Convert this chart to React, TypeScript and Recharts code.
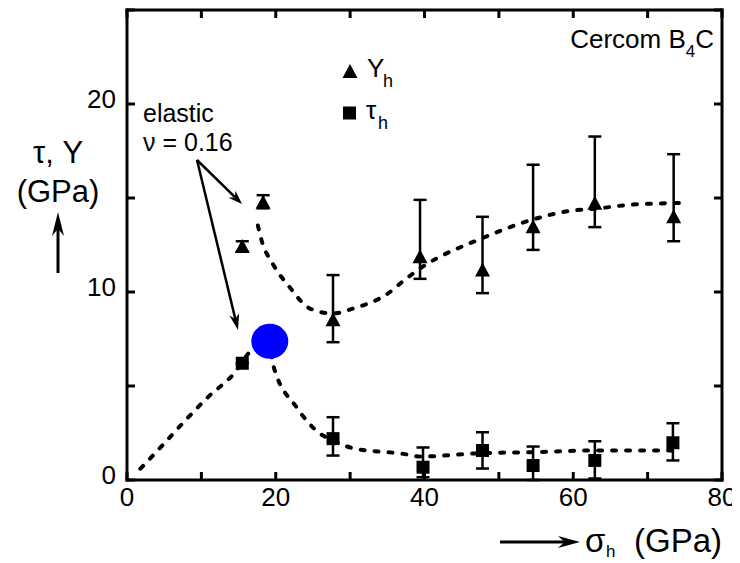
import React from 'react';
import { ComposedChart, XAxis, YAxis, Line, Scatter, ErrorBar } from 'recharts';

const FONT = '"Liberation Sans", Arial, Helvetica, sans-serif';

// Y_h (triangles)
const yhX = [15.5, 18.3, 27.7, 39.4, 47.8, 54.6, 62.9, 73.5];
const yhY = [12.4, 14.75, 8.5, 11.85, 11.14, 13.45, 14.7, 13.98];
const yhLo = [12.15, 14.45, 7.33, 10.7, 9.94, 12.24, 13.45, 12.7];
const yhHi = [12.7, 15.15, 10.9, 14.9, 14.0, 16.77, 18.27, 17.33];

// tau_h (squares)
const thX = [15.5, 27.7, 39.8, 47.8, 54.6, 62.9, 73.4];
const thY = [6.21, 2.2, 0.68, 1.57, 0.77, 1.04, 1.98];
const thLo = [6.21, 1.3, 0.15, 0.61, 0.0, 0.08, 1.04];
const thHi = [6.21, 3.34, 1.73, 2.54, 1.78, 2.06, 3.02];

// dashed guide curves
const yCurveX = [17.6, 18.1, 19.6, 21.9, 24.6, 27.7, 30.4, 35.0, 37.5, 39.4, 48.0, 54.6, 59.3, 63.0, 68.0, 75.4];
const yCurveY = [13.54, 12.74, 11.5, 10.24, 9.12, 8.86, 9.12, 9.9, 10.7, 11.25, 12.9, 13.86, 14.3, 14.43, 14.65, 14.74];
const tCurveX = [1.8, 4.9, 7.8, 11.0, 14.25, 16.95, 19.2, 19.67, 22.8, 25.95, 27.7, 30.4, 37.15, 39.4, 47.8, 54.5, 62.9, 73.4];
const tCurveY = [0.6, 1.9, 3.15, 4.45, 5.6, 7.0, 7.38, 6.09, 3.87, 2.47, 2.1, 1.69, 1.39, 1.25, 1.43, 1.48, 1.57, 1.57];

// elastic point (blue)
const elasticX = [19.2];
const elasticY = [7.38];

const xTicks = [0, 10, 20, 30, 40, 50, 60, 70, 80];
const xLabels = [0, 20, 40, 60, 80];
const yTicks = [0, 5, 10, 15, 20, 25];
const yLabels = [0, 10, 20];

const yhData = yhX.map((x, i) => ({ x, y: yhY[i], err: [yhY[i] - yhLo[i], yhHi[i] - yhY[i]] }));
const thData = thX.map((x, i) => ({ x, y: thY[i], err: [thY[i] - thLo[i], thHi[i] - thY[i]] }));
const yCurve = yCurveX.map((x, i) => ({ x, y: yCurveY[i] }));
const tCurve = tCurveX.map((x, i) => ({ x, y: tCurveY[i] }));
const elasticData = elasticX.map((x, i) => ({ x, y: elasticY[i] }));
const dummy = [{ x: 0, y: 0 }];

const TICK_LEN = 8;
const LABEL_SIZE = 26;

const BottomTick = (p: any) => {
  const { x, y, payload } = p;
  const v = payload.value;
  return (
    <g>
      <line x1={x} y1={y} x2={x} y2={y - TICK_LEN} stroke="#000" strokeWidth={3} />
      {xLabels.includes(v) && (
        <text x={x} y={y + 26} textAnchor="middle" fontSize={LABEL_SIZE} fontFamily={FONT} fill="#000">
          {v}
        </text>
      )}
    </g>
  );
};
const TopTick = (p: any) => {
  const { x, y } = p;
  return <line x1={x} y1={y} x2={x} y2={y + TICK_LEN} stroke="#000" strokeWidth={3} />;
};
const LeftTick = (p: any) => {
  const { x, y, payload } = p;
  const v = payload.value;
  return (
    <g>
      <line x1={x} y1={y} x2={x + TICK_LEN} y2={y} stroke="#000" strokeWidth={3} />
      {yLabels.includes(v) && (
        <text x={x - 11} y={y + 4} textAnchor="end" fontSize={LABEL_SIZE} fontFamily={FONT} fill="#000">
          {v}
        </text>
      )}
    </g>
  );
};
const RightTick = (p: any) => {
  const { x, y } = p;
  return <line x1={x} y1={y} x2={x - TICK_LEN} y2={y} stroke="#000" strokeWidth={3} />;
};

const Tri = (p: any) => (
  <path d={`M${p.cx},${p.cy - 8}L${p.cx + 7.5},${p.cy + 6}L${p.cx - 7.5},${p.cy + 6}Z`} fill="#000" />
);
const Sq = (p: any) => <rect x={p.cx - 6.5} y={p.cy - 6.5} width={13} height={13} fill="#000" />;
const Blob = (p: any) => <ellipse cx={p.cx} cy={p.cy} rx={18.5} ry={17.5} fill="#0000ff" />;
const Nothing = () => <g />;

function Arrow({ x1, y1, x2, y2, len = 14, half = 5, w = 2.5 }: any) {
  const dx = x2 - x1;
  const dy = y2 - y1;
  const L = Math.hypot(dx, dy);
  const ux = dx / L;
  const uy = dy / L;
  const bx = x2 - ux * len;
  const by = y2 - uy * len;
  const px = -uy;
  const py = ux;
  const nx = x2 - ux * len * 0.7;
  const ny = y2 - uy * len * 0.7;
  return (
    <g>
      <line x1={x1} y1={y1} x2={nx} y2={ny} stroke="#000" strokeWidth={w} />
      <polygon
        points={`${x2},${y2} ${bx + px * half},${by + py * half} ${nx},${ny} ${bx - px * half},${by - py * half}`}
        fill="#000"
      />
    </g>
  );
}

const axisLine = { stroke: '#000', strokeWidth: 3, strokeLinecap: 'square' as const };
const dash = { stroke: '#000', strokeWidth: 4, strokeDasharray: '4 10', strokeLinecap: 'round' as const };

export default function App() {
  return (
    <div style={{ position: 'relative', width: 732, height: 555 }}>
      <ComposedChart width={732} height={547} margin={{ top: 1, right: 17, bottom: 35, left: 59 }}>
        <XAxis
          xAxisId="b"
          dataKey="x"
          type="number"
          domain={[0, 80]}
          ticks={xTicks}
          allowDataOverflow
          orientation="bottom"
          height={40}
          axisLine={axisLine}
          tickLine={false}
          tickSize={0}
          tickMargin={0}
          tick={<BottomTick />}
          interval={0}
        />
        <XAxis
          xAxisId="t"
          dataKey="x"
          type="number"
          domain={[0, 80]}
          ticks={xTicks}
          allowDataOverflow
          orientation="top"
          height={1}
          axisLine={axisLine}
          tickLine={false}
          tickSize={0}
          tickMargin={0}
          tick={<TopTick />}
          interval={0}
        />
        <YAxis
          yAxisId="l"
          dataKey="y"
          type="number"
          domain={[0, 25]}
          ticks={yTicks}
          allowDataOverflow
          orientation="left"
          width={60}
          axisLine={axisLine}
          tickLine={false}
          tickSize={0}
          tickMargin={0}
          tick={<LeftTick />}
          interval={0}
        />
        <YAxis
          yAxisId="r"
          dataKey="y"
          type="number"
          domain={[0, 25]}
          ticks={yTicks}
          allowDataOverflow
          orientation="right"
          width={1}
          axisLine={axisLine}
          tickLine={false}
          tickSize={0}
          tickMargin={0}
          tick={<RightTick />}
          interval={0}
        />
        <Scatter data={dummy} xAxisId="t" yAxisId="r" shape={<Nothing />} isAnimationActive={false} />
        <Line data={yCurve} dataKey="y" xAxisId="b" yAxisId="l" type="monotone" dot={false} {...dash} isAnimationActive={false} />
        <Line data={tCurve} dataKey="y" xAxisId="b" yAxisId="l" type="monotone" dot={false} {...dash} isAnimationActive={false} />
        <Scatter data={elasticData} xAxisId="b" yAxisId="l" shape={<Blob />} isAnimationActive={false} />
        <Scatter data={yhData} xAxisId="b" yAxisId="l" shape={<Tri />} isAnimationActive={false}>
          <ErrorBar dataKey="err" direction="y" width={6.5} stroke="#000" strokeWidth={2.5} />
        </Scatter>
        <Scatter data={thData} xAxisId="b" yAxisId="l" shape={<Sq />} isAnimationActive={false}>
          <ErrorBar dataKey="err" direction="y" width={6.5} stroke="#000" strokeWidth={2.5} />
        </Scatter>
      </ComposedChart>
      <svg
        width={732}
        height={555}
        style={{ position: 'absolute', left: 0, top: 0, pointerEvents: 'none' }}
        fontFamily={FONT}
      >
        {/* annotation */}
        <text x={135} y={114} fontSize={25} fill="#000">elastic</text>
        <text x={135} y={143} fontSize={25} fill="#000">ν = 0.16</text>
        <Arrow x1={189} y1={152} x2={234} y2={196} />
        <Arrow x1={189} y1={152} x2={230} y2={322} len={16} />
        {/* legend */}
        <path d="M342,56L349.5,70L334.5,70Z" fill="#000" />
        <text x={359} y={69} fontSize={26} fill="#000">Y</text>
        <text x={375} y={79} fontSize={18} fill="#000">h</text>
        <rect x={335} y={98.5} width={13} height={13} fill="#000" />
        <text x={358} y={111} fontSize={26} fill="#000">τ</text>
        <text x={370} y={121} fontSize={18} fill="#000">h</text>
        {/* material label */}
        <text x={706} y={40} fontSize={26} fill="#000" textAnchor="end">
          Cercom B<tspan fontSize={17} dy={9}>4</tspan><tspan dy={-9}>C</tspan>
        </text>
        {/* y title */}
        <text x={50} y={155} fontSize={31} fill="#000" textAnchor="middle">τ,  Y</text>
        <text x={50} y={194} fontSize={31} fill="#000" textAnchor="middle">(GPa)</text>
        <Arrow x1={50} y1={265} x2={50} y2={204} len={24} half={6} w={3} />
        {/* x title */}
        <Arrow x1={492} y1={534} x2={572} y2={534} len={22} half={6} w={3} />
        <text x={577} y={544} fontSize={33} fill="#000">σ</text>
        <text x={598} y={549} fontSize={17} fill="#000">h</text>
        <text x={714} y={544} fontSize={33} fill="#000" textAnchor="end">(GPa)</text>
      </svg>
    </div>
  );
}
